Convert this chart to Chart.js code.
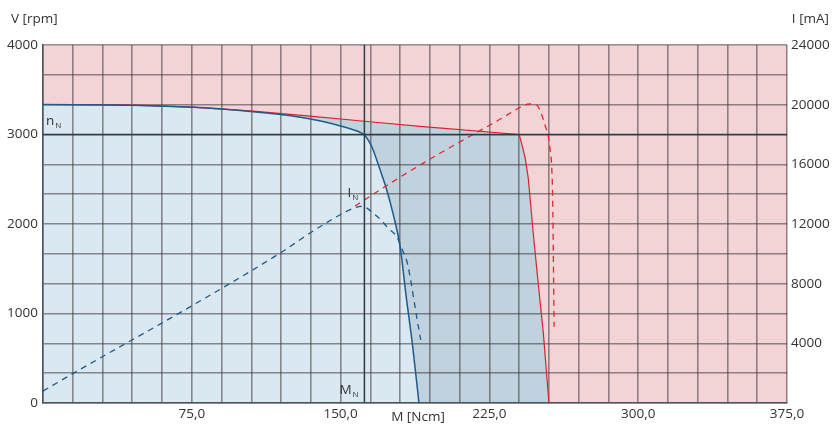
<!DOCTYPE html>
<html>
<head>
<meta charset="utf-8">
<script src="https://cdn.jsdelivr.net/npm/chart.js@4.4.1/dist/chart.umd.min.js"></script>
<style>
  html, body { margin: 0; padding: 0; background: #fff; }
  #wrap { position: relative; width: 833px; height: 427px; }
</style>
</head>
<body>
<div id="wrap"><canvas id="motorChart"></canvas></div>
<script>
// speed curve (continuous operation), M [Ncm] -> V [rpm]
const speedM = [0, 45, 76, 106, 125, 140, 150, 156, 160, 162, 164, 166, 168, 170, 173, 176.5, 180, 183, 186.5, 189.5];
const speedV = [3335, 3328, 3304, 3255, 3210, 3150, 3095, 3055, 3022, 2995, 2935, 2850, 2730, 2600, 2400, 2110, 1747, 1200, 600, 0];

// speed limit curve (intermittent operation)
const limitM = [0, 30, 55, 75, 106, 136, 162, 190, 240, 241.2, 242.9, 244.6, 247.1, 249.6, 252.2, 255];
const limitV = [3335, 3333, 3322, 3305, 3262, 3203, 3148, 3090, 3000, 2901, 2752, 2510, 1896, 1337, 778, 0];

// current, M [Ncm] -> I [mA]
const currentM = [0, 15.3, 77.4, 119.5, 139.6, 157.3, 161, 163.5, 166.5, 170.7, 174, 178.3, 181, 183.6, 185.5, 187.5, 189.2, 190.4];
const currentI = [800, 1990, 6700, 10050, 11819, 13093, 13180, 13050, 12717, 12221, 11712, 11149, 10300, 9400, 8100, 6456, 5115, 4223];

const peakCurrentM = [157.3, 175, 199.2, 230.3, 239.6, 243, 245.5, 248.8, 251.4, 253, 254.7, 255.5, 256.4, 256.9, 257.3, 257.6];
const peakCurrentI = [13207, 14728, 16672, 19019, 19756, 19990, 20045, 19978, 19307, 18637, 17853, 17075, 15842, 13609, 9000, 5116];

// whole plot range (overload region)
const rangeM = [0, 375];
const rangeV = [4000, 4000];

// rated point
const ratedSpeed = 3000;
const ratedTorque = 162;
const ratedCurrentM = 161;
const ratedCurrentI = 13180;

// tick labels
const xLabelValues = [75, 150, 225, 300, 375];
const yLabelValues = [0, 1000, 2000, 3000, 4000];
const y2LabelValues = [4000, 8000, 12000, 16000, 20000, 24000];

function pts(xs, ys) {
  return xs.map((v, i) => ({ x: v, y: ys[i] }));
}

const gridColor = 'rgba(55,45,50,0.52)';
const textColor = '#333';
Chart.defaults.font.family = "'Open Sans', sans-serif";
Chart.defaults.font.size = 13.5;
Chart.defaults.color = textColor;

function sub(ctx, main, low, x, y) {
  ctx.font = '13.5px "Open Sans"';
  ctx.fillText(main, x, y);
  const w = ctx.measureText(main).width;
  ctx.font = '8px "Open Sans"';
  ctx.fillText(low, x + w + 1, y + 3);
}

const labelPlugin = {
  id: 'motorLabels',
  afterDraw(chart) {
    const { ctx, chartArea, scales } = chart;
    ctx.save();
    ctx.fillStyle = textColor;
    ctx.textBaseline = 'alphabetic';
    ctx.font = '13.5px "Open Sans"';
    ctx.textAlign = 'left';
    ctx.fillText('V [rpm]', 11, 23);
    ctx.textAlign = 'right';
    ctx.fillText('I [mA]', 829, 23);
    ctx.textAlign = 'center';
    ctx.fillText('M [Ncm]', (chartArea.left + chartArea.right) / 2 + 3, 421);
    ctx.textAlign = 'left';
    sub(ctx, 'n', 'N', chartArea.left + 3, scales.y.getPixelForValue(ratedSpeed) - 10);
    sub(ctx, 'I', 'N', scales.x.getPixelForValue(ratedCurrentM) - 15, scales.y2.getPixelForValue(ratedCurrentI) - 9);
    sub(ctx, 'M', 'N', scales.x.getPixelForValue(ratedTorque) - 25, chartArea.bottom - 9);
    ctx.restore();
  }
};

const datasets = [
  {
    data: pts([0, 375], [ratedSpeed, ratedSpeed]),
    borderColor: '#2e3a44', borderWidth: 1.5, pointRadius: 0, fill: false
  },
  {
    data: pts([ratedTorque, ratedTorque], [0, 4000]),
    borderColor: '#2e3a44', borderWidth: 1.5, pointRadius: 0, fill: false
  },
  {
    data: pts(currentM, currentI), yAxisID: 'y2',
    borderColor: '#1f5a8a', borderWidth: 1.3, borderDash: [6, 5],
    pointRadius: 0, fill: false, cubicInterpolationMode: 'monotone'
  },
  {
    data: pts(peakCurrentM, peakCurrentI), yAxisID: 'y2',
    borderColor: '#e3262f', borderWidth: 1.3, borderDash: [6, 5],
    pointRadius: 0, fill: false, cubicInterpolationMode: 'monotone'
  },
  {
    data: pts(speedM, speedV),
    borderColor: '#1f5a8a', borderWidth: 1.5, backgroundColor: '#d9e8f1',
    pointRadius: 0, fill: 'origin', cubicInterpolationMode: 'monotone'
  },
  {
    data: pts(limitM, limitV),
    borderColor: '#d9232e', borderWidth: 1.2, backgroundColor: '#c0d2dd',
    pointRadius: 0, fill: 'origin', tension: 0
  },
  {
    data: pts(rangeM, rangeV),
    borderWidth: 0, borderColor: 'rgba(0,0,0,0)', backgroundColor: '#f2d4d7',
    pointRadius: 0, fill: 'origin'
  }
];

const xGrid = [];
for (let v = 0; v <= 375; v += 15) xGrid.push(v);
const yGrid = [];
for (let k = 0; k <= 12; k++) yGrid.push(k * 4000 / 12);

new Chart(document.getElementById('motorChart'), {
  type: 'line',
  data: { datasets: datasets },
  options: {
    responsive: true,
    maintainAspectRatio: false,
    animation: false,
    layout: { padding: { top: 45, left: 0, right: 0, bottom: 0 } },
    plugins: {
      legend: { display: false },
      tooltip: { enabled: false },
      filler: { drawTime: 'beforeDraw' }
    },
    scales: {
      x: {
        type: 'linear', min: 0, max: 375,
        afterBuildTicks: (s) => { s.ticks = xGrid.map(v => ({ value: v })); },
        afterFit: (s) => { s.height = 24; },
        grid: { color: gridColor, lineWidth: 1.6, drawTicks: false },
        border: { display: true, color: '#4a555e', width: 1.5 },
        ticks: {
          autoSkip: false, maxRotation: 0, padding: 3,
          callback: (v) => xLabelValues.includes(v) ? v.toFixed(1).replace('.', ',') : ''
        }
      },
      y: {
        position: 'left', min: 0, max: 4000,
        afterBuildTicks: (s) => { s.ticks = yGrid.map(v => ({ value: v })); },
        afterFit: (s) => { s.width = 43; },
        grid: { color: gridColor, lineWidth: 1.6, drawTicks: false },
        border: { display: true, color: '#4a555e', width: 1.5 },
        ticks: {
          autoSkip: false, padding: 5,
          callback: (v) => yLabelValues.some(l => Math.abs(l - v) < 0.01) ? String(Math.round(v)) : ''
        }
      },
      y2: {
        position: 'right', min: 0, max: 24000,
        afterBuildTicks: (s) => { s.ticks = y2LabelValues.map(v => ({ value: v })); },
        afterFit: (s) => { s.width = 46; },
        grid: { display: false, drawTicks: false },
        border: { display: false },
        ticks: { autoSkip: false, padding: 4, callback: (v) => String(v) }
      }
    }
  },
  plugins: [labelPlugin]
});
</script>
</body>
</html>
